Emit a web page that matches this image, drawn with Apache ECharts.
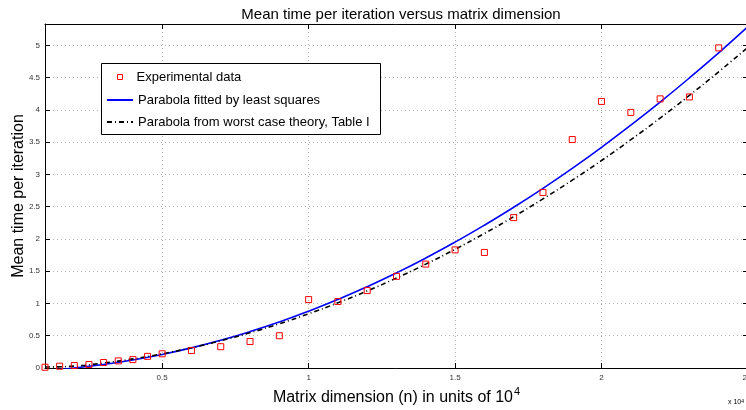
<!DOCTYPE html>
<html><head><meta charset="utf-8">
<script src="https://cdn.jsdelivr.net/npm/echarts@6/dist/echarts.min.js"></script>
<style>html,body{margin:0;padding:0;background:#fff}#c{width:746px;height:410px}</style>
</head><body><div id="c"></div>
<script>
// Experimental data (matrix dimension in units of 1e4, mean time per iteration)
const expX = [0.1,0.15,0.2,0.25,0.3,0.35,0.4,0.45,0.5,0.6,0.7,0.8,0.9,1.0,1.1,1.2,1.3,1.4,1.5,1.6,1.7,1.8,1.9,2.0,2.1,2.2,2.3,2.4];
const expY = [0.012,0.028,0.039,0.054,0.085,0.11,0.13,0.18,0.22,0.27,0.33,0.41,0.50,1.06,1.03,1.20,1.42,1.61,1.83,1.79,2.33,2.72,3.54,4.13,3.96,4.17,4.20,4.96];
// Curves
const curveX = [0.1,0.2,0.3,0.4,0.5,0.6,0.7,0.8,0.9,1.0,1.1,1.2,1.3,1.4,1.5,1.6,1.7,1.8,1.9,2.0,2.1,2.2,2.3,2.4,2.5];
const fitY = [-0.038,0.0,0.054,0.124,0.21,0.312,0.43,0.564,0.714,0.88,1.062,1.26,1.474,1.704,1.95,2.212,2.49,2.784,3.094,3.42,3.762,4.12,4.494,4.884,5.29];
const theoryY = [0.015,0.029,0.078,0.141,0.22,0.314,0.422,0.546,0.686,0.84,1.01,1.194,1.394,1.609,1.839,2.084,2.344,2.62,2.91,3.215,3.537,3.873,4.224,4.59,4.97];
const seriesNames = ['Experimental data','Parabola fitted by least squares','Parabola from worst case theory, Table I'];

const FF = 'Liberation Sans, Arial, Helvetica, sans-serif';
const chart = echarts.init(document.getElementById('c'));
const zip = (xs, ys) => xs.map((x, i) => [x, ys[i]]);
const tickCommon = {show: true, inside: true, length: 5, lineStyle: {color: '#000', width: 1}};
const lineCommon = {show: true, onZero: false, lineStyle: {color: '#000', width: 1}};
const gridLine = {show: true, lineStyle: {color: '#b3b3b3', width: 1, type: [1, 3]}};

chart.setOption({
  animation: false,
  backgroundColor: '#fff',
  title: {
    text: 'Mean time per iteration versus matrix dimension',
    left: 396, textAlign: 'center', top: 2,
    textStyle: {fontFamily: FF, fontSize: 15, fontWeight: 'normal', color: '#000'}
  },
  grid: {left: 45, right: -2, top: 24, bottom: 42, containLabel: false, outerBoundsMode: 'none'},
  xAxis: [{
    type: 'value', min: 0.1, max: 2.5, position: 'bottom',
    name: '{a|Matrix dimension (n) in units of 10}{s|4}',
    nameLocation: 'middle', nameGap: 18, nameMoveOverlap: false,
    nameTextStyle: {
      rich: {
        a: {fontFamily: FF, fontSize: 16, color: '#000', lineHeight: 20, verticalAlign: 'bottom'},
        s: {fontFamily: FF, fontSize: 11, color: '#000', lineHeight: 20, verticalAlign: 'top', padding: [0, 0, 0, 1]}
      }
    },
    axisLine: lineCommon, axisTick: tickCommon,
    axisLabel: {fontFamily: FF, fontSize: 8, color: '#333', margin: 6, showMinLabel: false},
    splitLine: gridLine
  }, {
    type: 'value', min: 0.1, max: 2.5, position: 'top',
    axisLine: lineCommon, axisTick: tickCommon, axisLabel: {show: false}, splitLine: {show: false}
  }],
  yAxis: [{
    type: 'value', min: 0, max: 5.33, interval: 0.5, position: 'left',
    name: 'Mean time per iteration', nameLocation: 'middle', nameGap: 18, nameMoveOverlap: false,
    nameTextStyle: {fontFamily: FF, fontSize: 16, color: '#000'},
    axisLine: lineCommon, axisTick: tickCommon,
    axisLabel: {fontFamily: FF, fontSize: 8, color: '#333', margin: 5, showMaxLabel: false},
    splitLine: gridLine
  }, {
    type: 'value', min: 0, max: 5.33, interval: 0.5, position: 'right',
    axisLine: lineCommon, axisTick: tickCommon, axisLabel: {show: false}, splitLine: {show: false}
  }],
  legend: [{
    data: [{name: seriesNames[0], icon: 'rect', itemStyle: {color: 'rgba(0,0,0,0)', borderColor: '#ff0000', borderWidth: 1}}],
    left: 117, top: 69, padding: 0, itemWidth: 5, itemHeight: 5,
    selectedMode: false,
    textStyle: {fontFamily: FF, fontSize: 13, color: '#000', lineHeight: 16, padding: [0, 0, 0, 9]}
  }, {
    data: [seriesNames[1], seriesNames[2]],
    orient: 'vertical', left: 106, top: 92, padding: 0, itemWidth: 26, itemHeight: 10, itemGap: 6,
    selectedMode: false,
    itemStyle: {color: 'rgba(0,0,0,0)', borderColor: 'rgba(0,0,0,0)', borderWidth: 0},
    textStyle: {fontFamily: FF, fontSize: 13, color: '#000', lineHeight: 16}
  }],
  graphic: [{
    type: 'rect', z: 3,
    shape: {x: 101.5, y: 63.5, width: 279, height: 71},
    style: {fill: '#fff', stroke: '#000', lineWidth: 1}
  }, {
    type: 'text', z: 3, x: 728, y: 399,
    style: {
      text: 'x 10{s|4}', fontFamily: FF, fontSize: 7, fill: '#000',
      rich: {s: {fontSize: 5, verticalAlign: 'top', fontFamily: FF, fill: '#000'}}
    }
  }],
  series: [{
    name: seriesNames[1], type: 'line', data: zip(curveX, fitY), smooth: true, symbol: 'none', z: 2,
    lineStyle: {color: '#0000ff', width: 1.6}, itemStyle: {color: '#0000ff'}
  }, {
    name: seriesNames[2], type: 'line', data: zip(curveX, theoryY), smooth: true, symbol: 'none', z: 2,
    lineStyle: {color: '#000', width: 1.6, type: [5, 3, 1, 3]}, itemStyle: {color: '#000'}
  }, {
    name: seriesNames[0], type: 'scatter', data: zip(expX, expY), symbol: 'rect', symbolSize: 6, z: 3,
    itemStyle: {color: 'rgba(0,0,0,0)', borderColor: '#ff0000', borderWidth: 1, opacity: 1}
  }]
});
</script>
</body></html>
